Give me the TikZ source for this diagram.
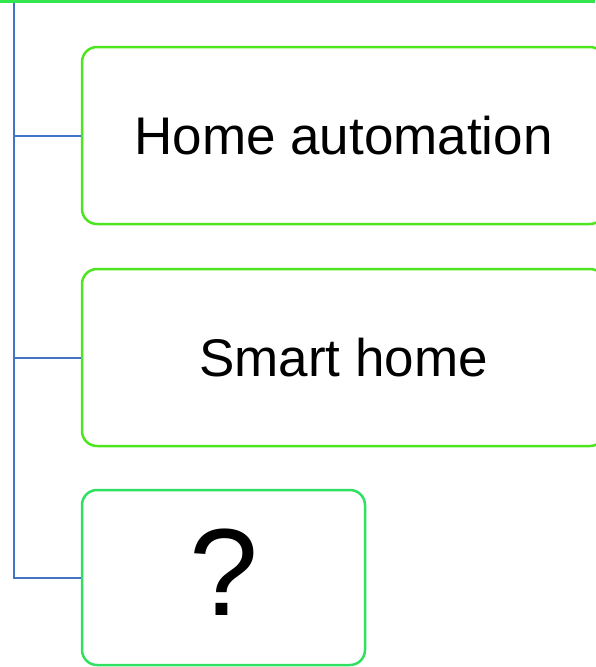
\documentclass[tikz,border=0pt]{standalone}
\usepackage{fontspec}
\setmainfont{Liberation Sans}
\definecolor{boxgreen}{HTML}{4DE61E}
\definecolor{leafgreen}{HTML}{30E060}
\definecolor{topgreen}{HTML}{33E64D}
\definecolor{branchblue}{HTML}{4472C4}
\tikzset{
  itembox/.style={draw=boxgreen,line width=2.5pt,rounded corners=15pt,fill=white,
    minimum width=523pt,minimum height=177pt,inner sep=0pt,font=\fontsize{53}{60}\selectfont},
  branch/.style={draw=branchblue,line width=2pt}
}
\begin{document}
\begin{tikzpicture}[x=1pt,y=-1pt]
\useasboundingbox (0,0) rectangle (595,667);
% bottom edge of the parent box
\draw[topgreen,line width=3pt] (0,1) -- (595,1);
\coordinate (top) at (14,2.5);
\node[itembox] (ha) at (343.5,135.5) {Home automation};
\node[itembox] (sh) at (343.5,357.5) {Smart home};
\node[itembox,draw=leafgreen,minimum width=283pt,minimum height=175pt,
  font=\fontsize{124}{130}\selectfont] (qm) at (223.5,577.5) {\raisebox{10pt}{?}};
% tree branches
\foreach \n in {ha,sh,qm} {\draw[branch] (top) |- (\n.west);}
\end{tikzpicture}
\end{document}
